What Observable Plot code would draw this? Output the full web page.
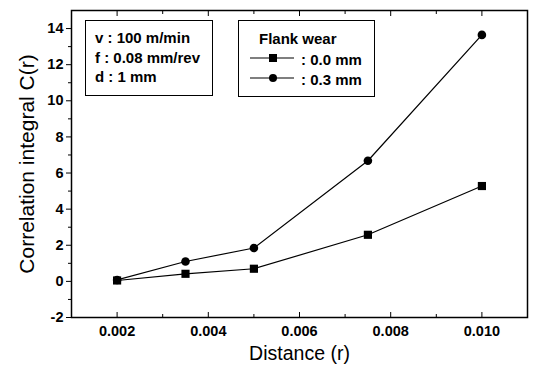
<!DOCTYPE html>
<html>
<head>
<meta charset="utf-8">
<script src="https://cdn.jsdelivr.net/npm/d3@7"></script>
<script src="https://cdn.jsdelivr.net/npm/@observablehq/plot@0.6"></script>
<style>
  body { margin: 0; background: #fff; }
  #wrap { position: relative; width: 534px; height: 366px; font-family: "Liberation Sans", Arial, sans-serif; color: #000; }
  .box { position: absolute; border: 1.3px solid #000; box-sizing: border-box; background: #fff; }
  .t { position: absolute; font-size: 15px; font-weight: bold; white-space: nowrap; line-height: 1; }
</style>
</head>
<body>
<div id="wrap"></div>
<script>
const distance = [0.002, 0.0035, 0.005, 0.0075, 0.010];
const wear00 = [0.05, 0.42, 0.70, 2.58, 5.28];
const wear03 = [0.08, 1.10, 1.85, 6.68, 13.65];
const seriesNames = ["0.0 mm", "0.3 mm"];
const xTicks = [0.002, 0.004, 0.006, 0.008, 0.010];
const xMinor = [0.001, 0.003, 0.005, 0.007, 0.009, 0.011];
const yTicks = [-2, 0, 2, 4, 6, 8, 10, 12, 14];
const yMinor = [-1, 1, 3, 5, 7, 9, 11, 13];
const conditions = ["v : 100 m/min", "f  : 0.08 mm/rev", "d : 1 mm"];
const legendTitle = "Flank wear";

const s0 = distance.map((x, i) => ({x, y: wear00[i]}));
const s1 = distance.map((x, i) => ({x, y: wear03[i]}));

const chart = Plot.plot({
  width: 534,
  height: 366,
  marginLeft: 71,
  marginRight: 7,
  marginTop: 10,
  marginBottom: 49,
  style: {fontFamily: '"Liberation Sans", Arial, sans-serif', fontSize: "14.5px", color: "#000", background: "#fff"},
  x: {domain: [0.001, 0.011]},
  y: {domain: [-2, 15]},
  marks: [
    Plot.frame({stroke: "#000", strokeWidth: 1.5}),
    Plot.axisX(xTicks, {anchor: "bottom", tickSize: 0, tickPadding: 8, tickFormat: d3.format(".3f"), fontWeight: "bold", label: null}),
    Plot.axisX(xTicks, {anchor: "bottom", tickSize: -5, tickFormat: () => "", label: null}),
    Plot.axisX(xMinor, {anchor: "bottom", tickSize: -3, tickFormat: () => "", label: null}),
    Plot.axisX(xTicks, {anchor: "top", tickSize: -5, tickFormat: () => "", label: null}),
    Plot.axisX(xMinor, {anchor: "top", tickSize: -3, tickFormat: () => "", label: null}),
    Plot.axisY(yTicks, {anchor: "left", tickSize: 5, tickPadding: 3, tickFormat: d => String(d), fontWeight: "bold", label: null}),
    Plot.axisY(yMinor, {anchor: "left", tickSize: 3, tickFormat: () => "", label: null}),
    Plot.text(["Distance (r)"], {frameAnchor: "bottom", dy: 42, fontSize: 19.5, lineAnchor: "bottom"}),
    Plot.text(["Correlation integral C(r)"], {frameAnchor: "left", textAnchor: "middle", lineAnchor: "bottom", rotate: -90, dx: -38, fontSize: 21}),
    Plot.line(s0, {x: "x", y: "y", stroke: "#000", strokeWidth: 1.2}),
    Plot.line(s1, {x: "x", y: "y", stroke: "#000", strokeWidth: 1.2}),
    Plot.dot(s0, {x: "x", y: "y", symbol: "square", r: 4.6, fill: "#000", stroke: "none"}),
    Plot.dot(s1, {x: "x", y: "y", symbol: "circle", r: 4.3, fill: "#000", stroke: "none"})
  ]
});

const wrap = document.getElementById("wrap");
wrap.appendChild(chart);

function add(cls, css, text) {
  const d = document.createElement("div");
  d.className = cls;
  d.style.cssText = css;
  if (text != null) d.textContent = text;
  wrap.appendChild(d);
  return d;
}
// conditions box
add("box", "left:85px;top:20px;width:128px;height:76px;");
conditions.forEach((c, i) => add("t", `left:95px;top:${30 + i * 19.5}px;`, c));
// legend box
add("box", "left:238px;top:20px;width:137px;height:77px;");
add("t", "left:259px;top:31px;", legendTitle);
const symSvg = (kind) => {
  const m = kind === "square"
    ? '<rect x="19" y="3" width="8" height="8" fill="#000"/>'
    : '<circle cx="23" cy="7" r="4" fill="#000"/>';
  return `<svg width="46" height="14" style="display:block"><line x1="0" y1="7" x2="44" y2="7" stroke="#000" stroke-width="1.2"/>${m}</svg>`;
};
seriesNames.forEach((n, i) => {
  const y = 58.3 + i * 19.4;
  const s = add("", `position:absolute;left:250px;top:${y - 7}px;`);
  s.innerHTML = symSvg(i === 0 ? "square" : "circle");
  add("t", `left:301px;top:${y - 6}px;`, ": " + n);
});
</script>
</body>
</html>
